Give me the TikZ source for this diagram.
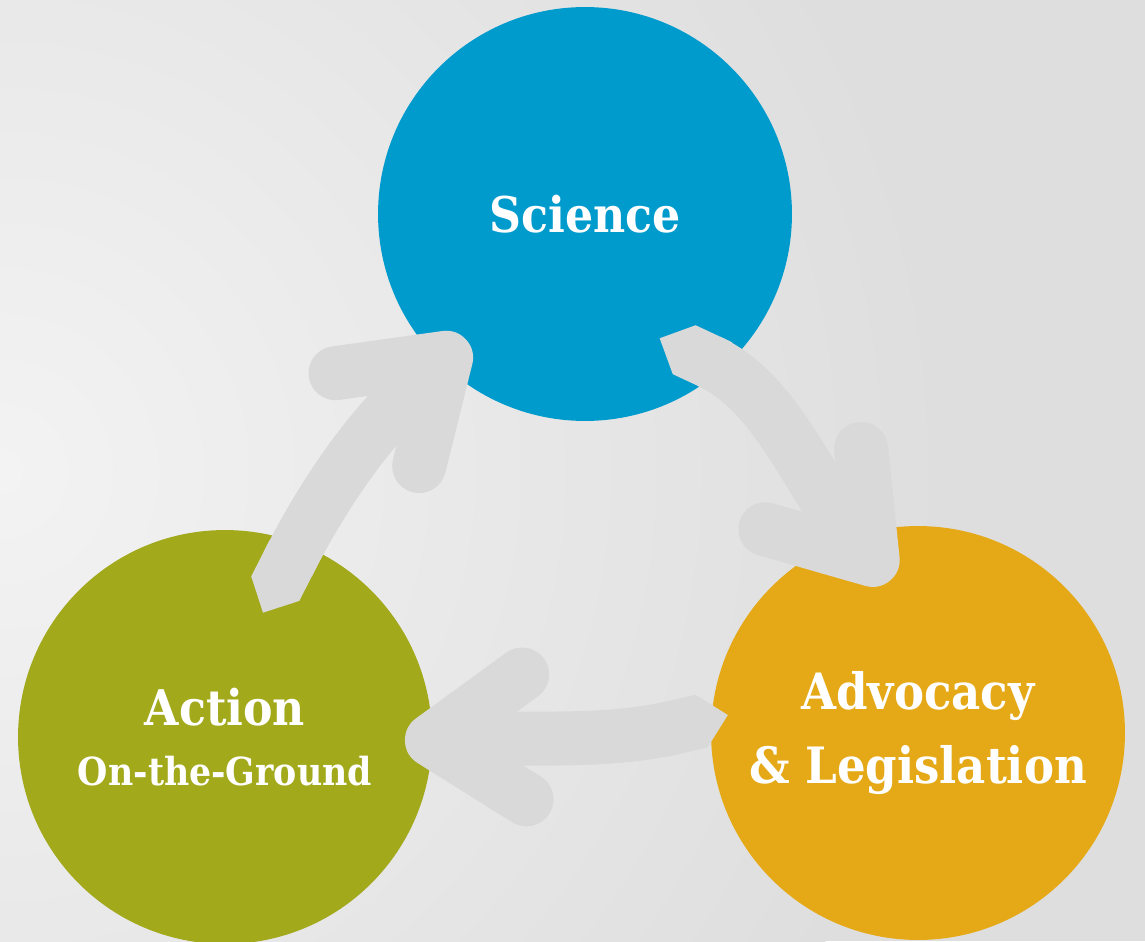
\documentclass[tikz,border=0pt]{standalone}
\usepackage{fontspec}
\setmainfont{DejaVu Serif Condensed}
\usetikzlibrary{arrows.meta}

\definecolor{sciBlue}{HTML}{009BCD}
\definecolor{actOlive}{HTML}{A2A91B}
\definecolor{advGold}{HTML}{E5A918}
\definecolor{flowGray}{HTML}{D9D9D9}
\definecolor{bgLight}{HTML}{F3F3F3}
\definecolor{bgDark}{HTML}{DEDEDE}

\tikzset{
    stage/.style={circle, minimum size=8.28cm, inner sep=0pt, text=white,
        align=center, font=\bfseries\fontsize{28}{34}\selectfont},
    cycleArrow/.style={draw=flowGray, line width=1.08cm, line join=round,
        {Triangle Cap}-{Straight Barb[length=1.85cm, width=2.5cm, round]}}
}

\begin{document}
\begin{tikzpicture}[x=0.02cm, y=0.02cm]% [ show background grid ]
    \useasboundingbox (0,0) rectangle (1145,941);
    \begin{scope}
        \clip (0,0) rectangle (1145,941);
        \fill[bgDark] (0,0) rectangle (1145,941);
        \shade[inner color=bgLight, outer color=bgDark] (0,470) circle (950);
    \end{scope}

    \node[stage, fill=sciBlue] (sci) at (585,727) {Science};
    \node[stage, fill=actOlive] (act) at (225,204)
        {Action\\{\fontsize{22}{34}\selectfont On-the-Ground}};
    \node[stage, fill=advGold, font=\bfseries\fontsize{28.5}{42}\selectfont] (adv) at (918,208)
        {Advocacy\\\& Legislation};

    \draw[cycleArrow] ([shift={(73:130)}]act.center) to[out=63, in=222] ([shift={(226.6:173)}]sci.center);
    \draw[cycleArrow] ([shift={(-59:145)}]sci.center) to[out=-25, in=130] ([shift={(100.4:155)}]adv.center);
    \draw[cycleArrow] ([shift={(174.6:191)}]adv.center) to[out=193, in=2] ([shift={(-1.3:180)}]act.center);

\end{tikzpicture}
\end{document}
